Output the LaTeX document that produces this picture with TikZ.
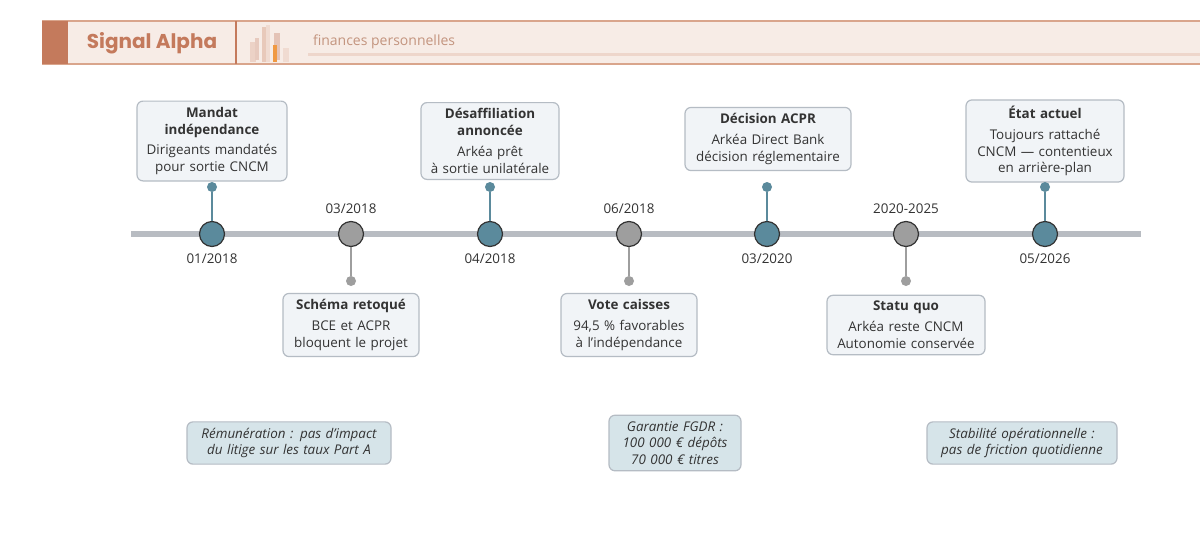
\documentclass[tikz,border=0pt]{standalone}
\usepackage{fontspec}
\setmainfont{Open Sans}
\newfontfamily\titlefont{Poppins}
\usetikzlibrary{positioning}
\definecolor{hdrbg}{HTML}{F7ECE6}
\definecolor{hdrline}{HTML}{D9A58C}
\definecolor{accent}{HTML}{C47A5C}
\definecolor{teal}{HTML}{5B8A9C}
\definecolor{grayc}{HTML}{9E9E9E}
\definecolor{axis}{HTML}{B8BCC2}
\definecolor{boxbg}{HTML}{F1F4F7}
\definecolor{boxline}{HTML}{B5BCC4}
\definecolor{notebg}{HTML}{D6E4E9}
\definecolor{txt}{HTML}{333333}
\tikzset{
  event/.style={draw=boxline,fill=boxbg,rounded corners=3pt,line width=0.6pt,align=center,
    font=\fontsize{6.7}{8.4}\selectfont,text=txt,inner sep=3pt},
  note/.style={draw=boxline,fill=notebg,rounded corners=3pt,line width=0.6pt,align=center,
    font=\fontsize{6.7}{8.4}\selectfont\itshape,text=txt,inner sep=3pt},
  dot/.style={circle,draw=txt,line width=0.6pt,minimum size=12.5pt,inner sep=0pt},
  pin/.style={circle,inner sep=0pt,minimum size=5pt},
  date/.style={font=\fontsize{6.7}{8}\selectfont,text=txt},
}
\begin{document}
\begin{tikzpicture}[x=0.5pt,y=-0.5pt]
    \useasboundingbox[fill=white] (0,0) rectangle (1200,541);
    % header
    \fill[hdrbg] (42,21) rectangle (1200,64);
    \draw[hdrline,line width=0.6pt] (42,21) -- (1200,21);
    \draw[hdrline,line width=0.6pt] (42,64) -- (1200,64);
    \fill[accent] (42,21) rectangle (68,64);
    \draw[accent,line width=0.6pt] (236,21) -- (236,64);
    \node[font=\titlefont\fontsize{10}{11}\selectfont\bfseries,text=accent] (title) at (152,43) {Signal Alpha};
    % bars
    \fill[hdrline!50] (250,42) rectangle (256,62);
    \fill[accent!40] (255,38) rectangle (259,60);
    \fill[hdrline!60] (262,27) rectangle (268,62);
    \fill[hdrline!40] (266,25) rectangle (270,62);
    \fill[accent!45] (274,33) rectangle (280,60);
    \fill[orange!70!brown!80] (273,45) rectangle (277,62);
    \fill[hdrline!40] (283,48) rectangle (289,62);
    \node[font=\fontsize{7}{8}\selectfont,text=hdrline!90!black,anchor=west] (sub) at (306,42) {finances personnelles};
    \fill[hdrline!45] (308,53) rectangle (1200,56);
    % axis
    \draw[axis,line width=3pt] (131,234) -- (1141,234);
    % events
    \foreach \x/\c [count=\i] in {212/teal,351/grayc,490/teal,629/grayc,767/teal,906/grayc,1045/teal} {
        \node[dot,fill=\c] (e\i) at (\x,234) {};
    }
    \node[date,below=0pt of e1] (d1) {01/2018};
    \node[date,above=0pt of e2] (d2) {03/2018};
    \node[date,below=0pt of e3] (d3) {04/2018};
    \node[date,above=0pt of e4] (d4) {06/2018};
    \node[date,below=0pt of e5] (d5) {03/2020};
    \node[date,above=0pt of e6] (d6) {2020-2025};
    \node[date,below=0pt of e7] (d7) {05/2026};
    % upper boxes
    \node[event,text width=69pt] (b1) at (212,141) {\textbf{Mandat\\indépendance}\\[2pt]Dirigeants mandatés\\pour sortie CNCM};
    \node[event,text width=63pt] (b3) at (490,141) {\textbf{Désaffiliation\\annoncée}\\[2pt]Arkéa prêt\\à sortie unilatérale};
    \node[event,text width=77pt] (b5) at (768,139) {\textbf{Décision ACPR}\\[2pt]Arkéa Direct Bank\\décision réglementaire};
    \node[event,text width=73pt] (b7) at (1045,141) {\textbf{État actuel}\\[2pt]Toujours rattaché\\CNCM — contentieux\\en arrière-plan};
    % lower boxes
    \node[event,text width=62pt] (b2) at (351,325) {\textbf{Schéma retoqué}\\[2pt]BCE et ACPR\\bloquent le projet};
    \node[event,text width=62pt] (b4) at (629,325) {\textbf{Vote caisses}\\[2pt]94,5 \% favorables\\à l'indépendance};
    \node[event,text width=73pt] (b6) at (906,325) {\textbf{Statu quo}\\[2pt]Arkéa reste CNCM\\Autonomie conservée};
    % stems
    \foreach \i/\y/\c in {1/187/teal,3/187/teal,5/187/teal,7/187/teal,2/281/grayc,4/281/grayc,6/281/grayc} {
        \node[pin,fill=\c] (p\i) at (e\i |- 0,\y) {};
        \draw[\c,line width=1pt] (p\i) -- (e\i);
    }
    % notes
    \node[note,text width=96pt] (n1) at (289,443) {Rémunération : pas d'impact\\du litige sur les taux Part A};
    \node[note,text width=60pt] (n2) at (675,443) {Garantie FGDR :\\100 000 € dépôts\\70 000 € titres};
    \node[note,text width=89pt] (n3) at (1022,443) {Stabilité opérationnelle :\\pas de friction quotidienne};
\end{tikzpicture}
\end{document}
